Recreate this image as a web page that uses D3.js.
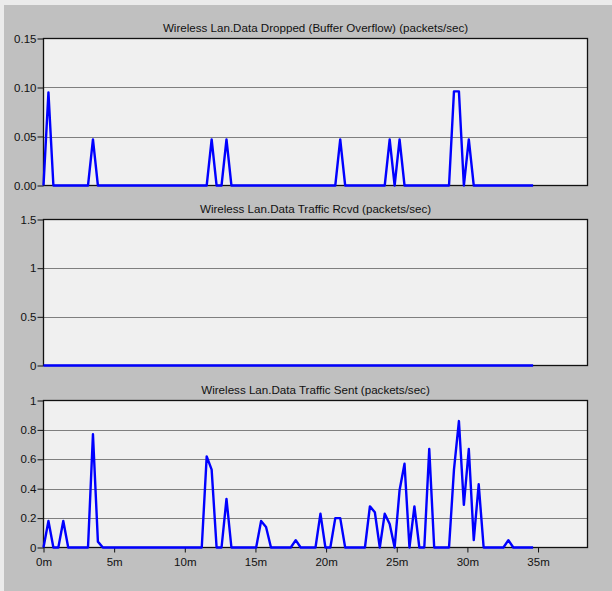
<!DOCTYPE html>
<html>
<head>
<meta charset="utf-8">
<script src="https://cdn.jsdelivr.net/npm/d3@7"></script>
<style>
  html, body { margin: 0; padding: 0; background: #ebebeb; }
  svg { display: block; }
  text { font-family: "Liberation Sans", Arial, sans-serif; font-size: 11px; fill: #111; }
</style>
</head>
<body>
<svg id="chart" width="612" height="591"></svg>
<script>
// ---- data ----
const sampleStepMin = 0.35; // sample clock (minutes per bucket)
const xTickValues = [0, 5, 10, 15, 20, 25, 30, 35];
const xTickLabels = ["0m", "5m", "10m", "15m", "20m", "25m", "30m", "35m"];
const xMaxMin = 38.5;

const titles = [
  "Wireless Lan.Data Dropped (Buffer Overflow) (packets/sec)",
  "Wireless Lan.Data Traffic Rcvd (packets/sec)",
  "Wireless Lan.Data Traffic Sent (packets/sec)"
];

const droppedValues = [
  0, 0.095, 0, 0, 0, 0, 0, 0, 0, 0,
  0.047, 0, 0, 0, 0, 0, 0, 0, 0, 0,
  0, 0, 0, 0, 0, 0, 0, 0, 0, 0,
  0, 0, 0, 0, 0.047, 0, 0, 0.047, 0, 0,
  0, 0, 0, 0, 0, 0, 0, 0, 0, 0,
  0, 0, 0, 0, 0, 0, 0, 0, 0, 0,
  0.047, 0, 0, 0, 0, 0, 0, 0, 0, 0,
  0.047, 0, 0.047, 0, 0, 0, 0, 0, 0, 0,
  0, 0, 0, 0.096, 0.096, 0, 0.047, 0, 0, 0,
  0, 0, 0, 0, 0, 0, 0, 0, 0, 0
];

const rcvdValues = [
  0, 0, 0, 0, 0, 0, 0, 0, 0, 0,
  0, 0, 0, 0, 0, 0, 0, 0, 0, 0,
  0, 0, 0, 0, 0, 0, 0, 0, 0, 0,
  0, 0, 0, 0, 0, 0, 0, 0, 0, 0,
  0, 0, 0, 0, 0, 0, 0, 0, 0, 0,
  0, 0, 0, 0, 0, 0, 0, 0, 0, 0,
  0, 0, 0, 0, 0, 0, 0, 0, 0, 0,
  0, 0, 0, 0, 0, 0, 0, 0, 0, 0,
  0, 0, 0, 0, 0, 0, 0, 0, 0, 0,
  0, 0, 0, 0, 0, 0, 0, 0, 0, 0
];

const sentValues = [
  0, 0.18, 0, 0, 0.18, 0, 0, 0, 0, 0,
  0.77, 0.04, 0, 0, 0, 0, 0, 0, 0, 0,
  0, 0, 0, 0, 0, 0, 0, 0, 0, 0,
  0, 0, 0, 0.62, 0.53, 0, 0, 0.33, 0, 0,
  0, 0, 0, 0, 0.18, 0.14, 0, 0, 0, 0,
  0, 0.05, 0, 0, 0, 0, 0.23, 0, 0, 0.2,
  0.2, 0, 0, 0, 0, 0, 0.28, 0.24, 0, 0.23,
  0.16, 0, 0.39, 0.57, 0, 0.28, 0, 0, 0.67, 0,
  0, 0, 0, 0.53, 0.86, 0.29, 0.67, 0.05, 0.43, 0,
  0, 0, 0, 0, 0.05, 0, 0, 0, 0, 0
];

const droppedTicks = [0, 0.05, 0.10, 0.15];
const droppedTickLabels = ["0.00", "0.05", "0.10", "0.15"];
const rcvdTicks = [0, 0.5, 1, 1.5];
const rcvdTickLabels = ["0", "0.5", "1", "1.5"];
const sentTicks = [0, 0.2, 0.4, 0.6, 0.8, 1];
const sentTickLabels = ["0", "0.2", "0.4", "0.6", "0.8", "1"];

// ---- layout ----
const svg = d3.select("#chart");
svg.append("rect").attr("x", 4).attr("y", 5).attr("width", 608).attr("height", 586).attr("fill", "#c0c0c0");

const left = 43.5, right = 587.5;
const x = d3.scaleLinear().domain([0, xMaxMin]).range([left, right]);
const fontFam = '"Liberation Sans", Arial, sans-serif';

const panels = [
  { title: titles[0], values: droppedValues, ticks: droppedTicks, labels: droppedTickLabels, top: 38.5, bottom: 185.5, showX: false },
  { title: titles[1], values: rcvdValues, ticks: rcvdTicks, labels: rcvdTickLabels, top: 219.5, bottom: 365.5, showX: false },
  { title: titles[2], values: sentValues, ticks: sentTicks, labels: sentTickLabels, top: 400.5, bottom: 547.5, showX: true }
];

panels.forEach(p => {
  const yMax = p.ticks[p.ticks.length - 1];
  const y = d3.scaleLinear().domain([0, yMax]).range([p.bottom, p.top]);
  const g = svg.append("g");

  g.append("rect")
    .attr("x", left).attr("y", p.top)
    .attr("width", right - left).attr("height", p.bottom - p.top)
    .attr("fill", "#f0f0f0");

  // gridlines
  g.selectAll(".grid").data(p.ticks.slice(1, -1)).join("line")
    .attr("x1", left).attr("x2", right)
    .attr("y1", d => Math.round(y(d)) + 0.5).attr("y2", d => Math.round(y(d)) + 0.5)
    .attr("stroke", "#7f7f7f").attr("stroke-width", 1.2);

  // frame
  g.append("rect")
    .attr("x", left).attr("y", p.top)
    .attr("width", right - left).attr("height", p.bottom - p.top)
    .attr("fill", "none").attr("stroke", "#111").attr("stroke-width", 1.3);

  // y axis
  const yAxis = d3.axisLeft(y).tickValues(p.ticks)
    .tickFormat((d, i) => p.labels[i]).tickSize(6).tickPadding(1);
  const ya = g.append("g").attr("transform", `translate(${left},0)`).call(yAxis);
  ya.select(".domain").remove();
  ya.selectAll("line").attr("stroke", "#111");
  ya.selectAll("text").style("font-family", fontFam).style("font-size", "11.5px").attr("fill", "#111");

  if (p.showX) {
    const xAxis = d3.axisBottom(x).tickValues(xTickValues)
      .tickFormat((d, i) => xTickLabels[i]).tickSize(5).tickPadding(5);
    const xa = g.append("g").attr("transform", `translate(0,${p.bottom})`).call(xAxis);
    xa.select(".domain").remove();
    xa.selectAll("line").attr("stroke", "#111");
    xa.selectAll("text").style("font-family", fontFam).style("font-size", "11.5px").attr("fill", "#111");
  }

  // title
  g.append("text")
    .attr("x", (left + right) / 2).attr("y", p.top - 7)
    .attr("text-anchor", "middle")
    .style("font-size", "11.6px")
    .text(p.title);

  // series line
  const line = d3.line()
    .x((d, i) => x(i * sampleStepMin))
    .y(d => y(d));
  g.append("path")
    .datum(p.values)
    .attr("d", line)
    .attr("fill", "none")
    .attr("stroke", "#0000ff")
    .attr("stroke-width", 2.4)
    .attr("stroke-linejoin", "round");
});
</script>
</body>
</html>
